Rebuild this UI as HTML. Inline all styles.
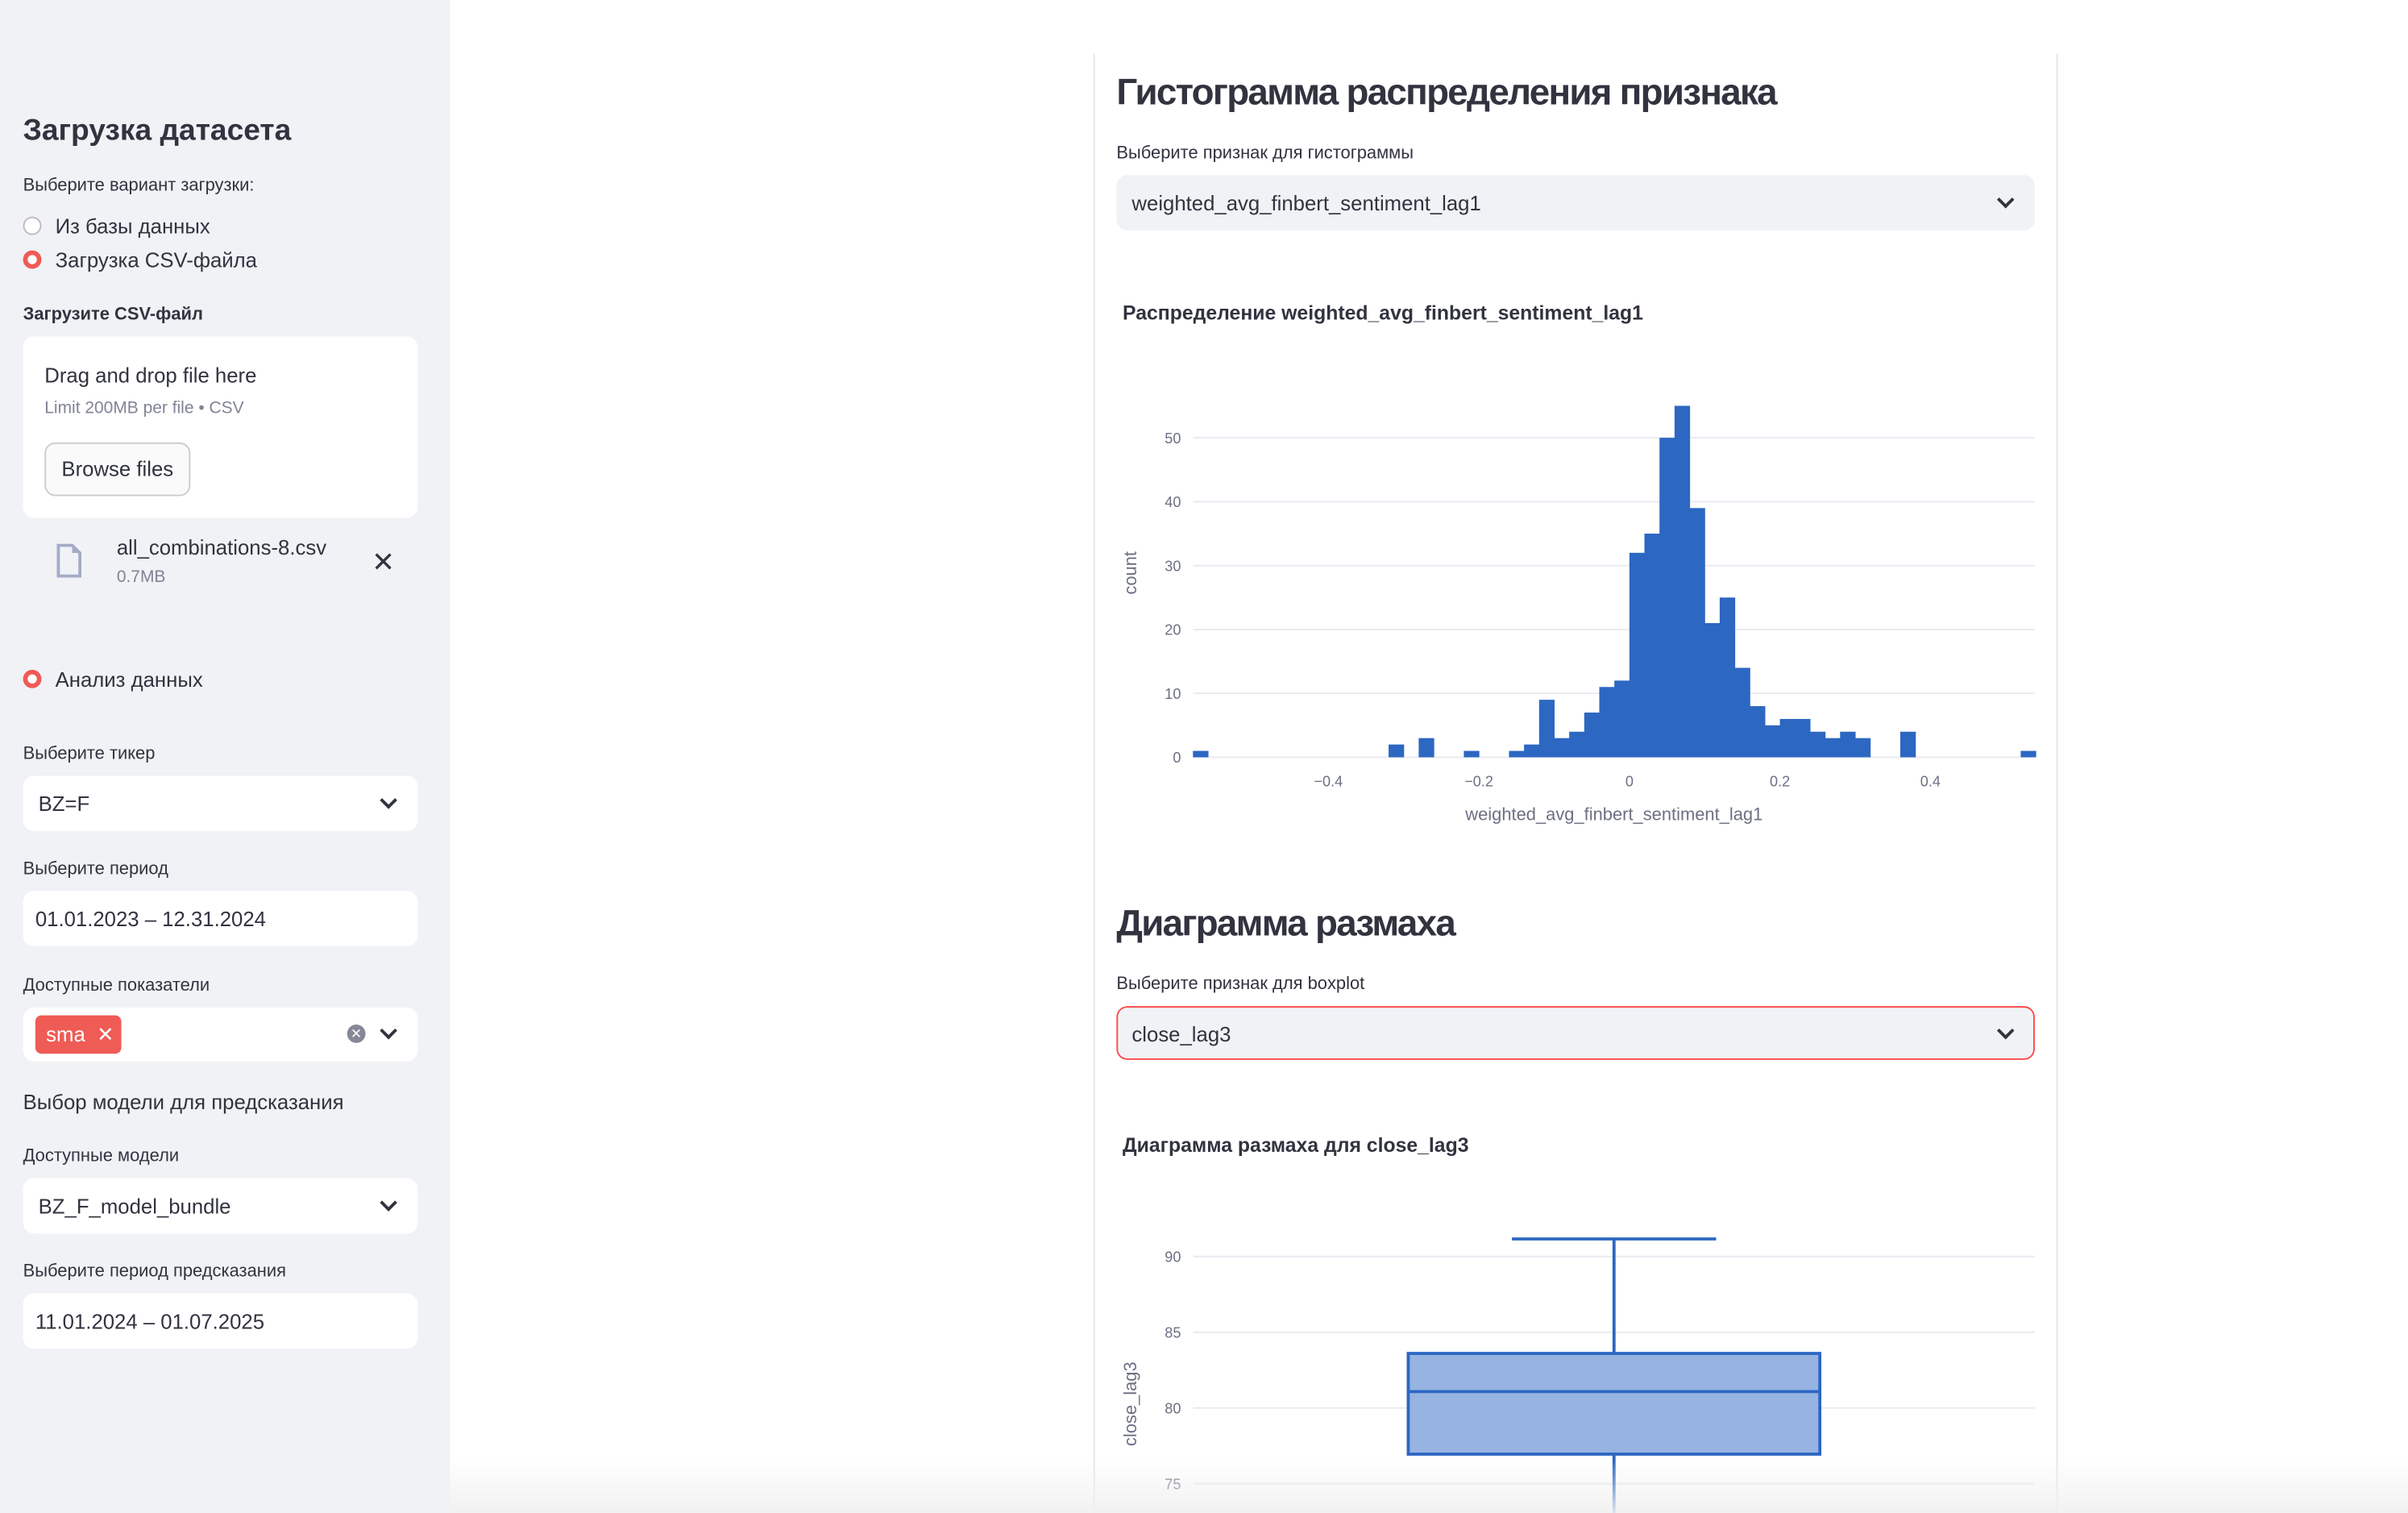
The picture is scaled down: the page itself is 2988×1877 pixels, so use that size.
<!DOCTYPE html>
<html><head><meta charset="utf-8">
<style>
html,body{margin:0;padding:0;width:2988px;height:1876px;overflow:hidden;background:#fff}
#wrap{position:absolute;left:0;top:0;width:1568px;height:985px;transform:scale(1.90561);transform-origin:0 0;font-family:"Liberation Sans","Noto Sans CJK SC",sans-serif;color:#31333f}
.a{position:absolute;white-space:nowrap}
#side{position:absolute;left:0;top:0;width:293px;height:985px;background:#f0f2f6}
.lbl{font-size:11.5px;color:#31333f}
.box{position:absolute;background:#fff;border-radius:7px}
.chev{position:absolute;width:6px;height:6px;border-right:2px solid #31333f;border-bottom:2px solid #31333f;transform:rotate(45deg)}
.radio{position:absolute;width:12px;height:12px;border-radius:50%;box-sizing:border-box}
</style></head><body>
<div id="wrap">
<div id="side">
  <div class="a" style="left:15px;top:74px;font-size:19.5px;font-weight:bold">Загрузка датасета</div>
  <div class="a lbl" style="left:15px;top:115px">Выберите вариант загрузки:</div>
  <div class="radio" style="left:15px;top:141px;border:1px solid #bbb;background:#fff"></div>
  <div class="a" style="left:36px;top:140px;font-size:13.5px">Из базы данных</div>
  <div class="radio" style="left:15px;top:163px;border:3.5px solid #f05a55;background:#fff"></div>
  <div class="a" style="left:36px;top:162px;font-size:13.5px">Загрузка CSV-файла</div>
  <div class="a lbl" style="left:15px;top:199px;font-weight:bold">Загрузите CSV-файл</div>
  <div class="box" style="left:15px;top:219px;width:257px;height:118px"></div>
  <div class="a" style="left:29px;top:237px;font-size:13.5px">Drag and drop file here</div>
  <div class="a" style="left:29px;top:260px;font-size:11px;color:#808495">Limit 200MB per file • CSV</div>
  <div class="a" style="left:29px;top:288px;width:95px;height:35px;border:1px solid #ccc;border-radius:7px;background:#fafafa;font-size:13.5px;line-height:34px;text-align:center;box-sizing:border-box">Browse files</div>
  <svg class="a" style="left:36px;top:354px" width="18" height="22"><path d="M2 1h9l5 5v15H2z" fill="none" stroke="#a3abc6" stroke-width="2"/><path d="M11 1v5h5" fill="#a3abc6"/></svg>
  <div class="a" style="left:76px;top:349px;font-size:13.5px">all_combinations-8.csv</div>
  <div class="a" style="left:76px;top:370px;font-size:11px;color:#808495">0.7MB</div>
  <div class="a" style="left:242px;top:356px;font-size:18px">✕</div>
  <div class="radio" style="left:15px;top:436px;border:3.5px solid #f05a55;background:#fff"></div>
  <div class="a" style="left:36px;top:435px;font-size:13.5px">Анализ данных</div>
  <div class="a lbl" style="left:15px;top:485px">Выберите тикер</div>
  <div class="box" style="left:15px;top:505px;width:257px;height:36px"></div>
  <div class="a" style="left:25px;top:516px;font-size:13.5px">BZ=F</div>
  <div class="chev" style="left:249px;top:517px"></div>
  <div class="a lbl" style="left:15px;top:560px">Выберите период</div>
  <div class="box" style="left:15px;top:580px;width:257px;height:36px"></div>
  <div class="a" style="left:23px;top:591px;font-size:13.5px">01.01.2023 – 12.31.2024</div>
  <div class="a lbl" style="left:15px;top:636px">Доступные показатели</div>
  <div class="box" style="left:15px;top:656px;width:257px;height:35px"></div>
  <div class="a" style="left:23px;top:661px;width:56px;height:25px;background:#ef5b55;border-radius:4px;color:#fff;font-size:13.5px;line-height:25px;padding-left:7px;box-sizing:border-box">sma&nbsp;&nbsp;✕</div>
  <div class="a" style="left:226px;top:667px;width:12px;height:12px;border-radius:50%;background:#858896;color:#fff;font-size:9px;line-height:12px;text-align:center">✕</div>
  <div class="chev" style="left:249px;top:667px"></div>
  <div class="a" style="left:15px;top:710px;font-size:13.5px">Выбор модели для предсказания</div>
  <div class="a lbl" style="left:15px;top:747px">Доступные модели</div>
  <div class="box" style="left:15px;top:767px;width:257px;height:36px"></div>
  <div class="a" style="left:25px;top:778px;font-size:13.5px">BZ_F_model_bundle</div>
  <div class="chev" style="left:249px;top:779px"></div>
  <div class="a lbl" style="left:15px;top:822px">Выберите период предсказания</div>
  <div class="box" style="left:15px;top:842px;width:257px;height:36px"></div>
  <div class="a" style="left:23px;top:853px;font-size:13.5px">11.01.2024 – 01.07.2025</div>
</div>
<div class="a" style="left:712px;top:35px;width:1px;height:950px;background:#e6e6e6"></div>
<div class="a" style="left:1339px;top:35px;width:1px;height:950px;background:#e6e6e6"></div>
<div class="a" style="left:727px;top:47px;font-size:24px;font-weight:bold;letter-spacing:-0.9px">Гистограмма распределения признака</div>
<div class="a lbl" style="left:727px;top:94px">Выберите признак для гистограммы</div>
<div class="a" style="left:727px;top:114px;width:598px;height:36px;background:#f0f2f6;border-radius:7px"></div>
<div class="a" style="left:737px;top:125px;font-size:13.5px">weighted_avg_finbert_sentiment_lag1</div>
<div class="chev" style="left:1302px;top:126px"></div>
<div class="a" style="left:731px;top:196px;font-size:13px;font-weight:bold">Распределение weighted_avg_finbert_sentiment_lag1</div>
<div class="a" style="left:727px;top:588px;font-size:24px;font-weight:bold;letter-spacing:-0.9px">Диаграмма размаха</div>
<div class="a lbl" style="left:727px;top:635px">Выберите признак для boxplot</div>
<div class="a" style="left:727px;top:655px;width:598px;height:35px;background:#f0f2f6;border-radius:7px;border:1px solid #ff4b4b;box-sizing:border-box"></div>
<div class="a" style="left:737px;top:666px;font-size:13.5px">close_lag3</div>
<div class="chev" style="left:1302px;top:667px"></div>
<div class="a" style="left:731px;top:738px;font-size:13px;font-weight:bold">Диаграмма размаха для close_lag3</div>
<svg id="charts" class="a" style="left:0;top:0" width="1568" height="985"></svg>
<div class="a" style="left:293px;top:950px;width:1275px;height:35px;background:linear-gradient(rgba(255,255,255,0),rgba(240,240,240,0.9))"></div>
</div>
<script>
// Histogram data
const binStart = -0.58;
const binWidth = 0.02;
const binCounts = [1,0,0,0,0,0,0,0,0,0,0,0,0,2,0,3,0,0,1,0,0,1,2,9,3,4,7,11,12,32,35,50,55,39,21,25,14,8,5,6,6,4,3,4,3,0,0,4,0,0,0,0,0,0,0,1];
const histYTicks = [0,10,20,30,40,50];
const histXTicks = [-0.4,-0.2,0,0.2,0.4];
const histXTickLabels = ["−0.4","−0.2","0","0.2","0.4"];
// Boxplot data
const boxStats = {lowerFence:70, q1:76.95, median:81.08, q3:83.6, upperFence:91.16};
const boxYTicks = [75,80,85,90];

const NS = "http://www.w3.org/2000/svg";
const svg = document.getElementById('charts');
function mk(tag, attrs, parent){const e=document.createElementNS(NS,tag);for(const k in attrs)e.setAttribute(k,attrs[k]);(parent||svg).appendChild(e);return e;}

// histogram axes
const hx = v => 1061 + (v)*490;
const hy = v => 493 - v*4.16;
const hL = 777, hR = 1325;
for (let i=0;i<histYTicks.length;i++){
  const t = histYTicks[i];
  const g = mk('line',{x1:hL,x2:hR,y1:hy(t),y2:hy(t),stroke:'#e8eaf0','stroke-width':1});
  
  
  const tx = mk('text',{x:769,y:hy(t)+3.5,'text-anchor':'end','font-size':9.5,fill:'#6c7083','font-family':'Liberation Sans, sans-serif'});
  tx.textContent = t;
  
  
}
for (let i=0;i<binCounts.length;i++){
  if(!binCounts[i]) continue;
  const x0 = hx(binStart + i*binWidth), x1 = hx(binStart + (i+1)*binWidth);
  const r = mk('rect',{x:x0,y:hy(binCounts[i]),width:x1-x0+0.3,height:hy(0)-hy(binCounts[i]),fill:'#2c67c2'});
  
  
}
for (let i=0;i<histXTicks.length;i++){
  const tx = mk('text',{x:hx(histXTicks[i]),y:512,'text-anchor':'middle','font-size':9.5,fill:'#6c7083','font-family':'Liberation Sans, sans-serif'});
  tx.textContent = histXTickLabels[i];
  
  
}
let t1 = mk('text',{x:1051,y:534,'text-anchor':'middle','font-size':11.5,fill:'#6c7083','font-family':'Liberation Sans, sans-serif'});
t1.textContent='weighted_avg_finbert_sentiment_lag1';


let t2 = mk('text',{x:0,y:0,'text-anchor':'middle','font-size':11.5,fill:'#6c7083','font-family':'Liberation Sans, sans-serif',transform:'translate(740,373) rotate(-90)'});
t2.textContent='count';



// boxplot
const by = v => 818 - (v-90)*9.86;
for (let i=0;i<boxYTicks.length;i++){
  const t = boxYTicks[i];
  const g = mk('line',{x1:hL,x2:hR,y1:by(t),y2:by(t),stroke:'#e8eaf0','stroke-width':1});
  
  
  const tx = mk('text',{x:769,y:by(t)+3.5,'text-anchor':'end','font-size':9.5,fill:'#6c7083','font-family':'Liberation Sans, sans-serif'});
  tx.textContent = t;
  
  
}
const bc = 1051, bw = 268, cw = 133;
let w1 = mk('line',{x1:bc,x2:bc,y1:by(boxStats.upperFence),y2:by(boxStats.q3),stroke:'#2c67c2','stroke-width':2});


let w2 = mk('line',{x1:bc,x2:bc,y1:by(boxStats.q1),y2:by(boxStats.lowerFence),stroke:'#2c67c2','stroke-width':2});


let cap = mk('line',{x1:bc-cw/2,x2:bc+cw/2,y1:by(boxStats.upperFence),y2:by(boxStats.upperFence),stroke:'#2c67c2','stroke-width':2});


let bx = mk('rect',{x:bc-bw/2,y:by(boxStats.q3),width:bw,height:by(boxStats.q1)-by(boxStats.q3),fill:'#96b3e1',stroke:'#2c67c2','stroke-width':2});


let md = mk('line',{x1:bc-bw/2,x2:bc+bw/2,y1:by(boxStats.median),y2:by(boxStats.median),stroke:'#2c67c2','stroke-width':2});


let t3 = mk('text',{x:0,y:0,'text-anchor':'middle','font-size':11.5,fill:'#6c7083','font-family':'Liberation Sans, sans-serif',transform:'translate(740,914) rotate(-90)'});
t3.textContent='close_lag3';


</script>
</body></html>
